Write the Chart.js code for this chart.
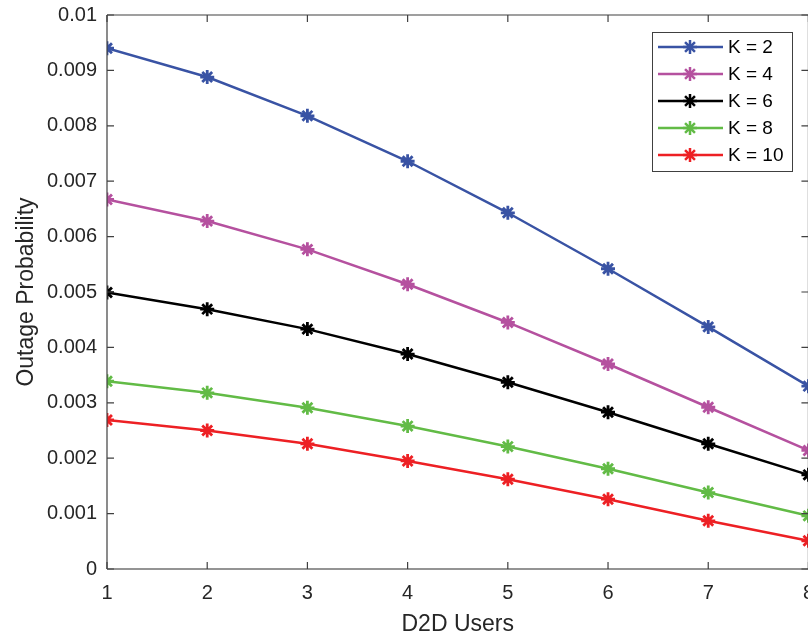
<!DOCTYPE html>
<html>
<head>
<meta charset="utf-8">
<script src="https://cdn.jsdelivr.net/npm/chart.js@4.4.1/dist/chart.umd.min.js"></script>
<style>
  html, body { margin: 0; padding: 0; background: #fff; overflow: hidden; }
  #wrap { width: 826px; height: 636px; }
</style>
</head>
<body>
<div id="wrap"><canvas id="chart" width="826" height="636"></canvas></div>
<script>
const users = [1, 2, 3, 4, 5, 6, 7, 8];
const seriesLabels = ['K = 2', 'K = 4', 'K = 6', 'K = 8', 'K = 10'];
const k2 = [0.00940, 0.00888, 0.00818, 0.00736, 0.00643, 0.00542, 0.00437, 0.00330];
const k4 = [0.00667, 0.00628, 0.00577, 0.00514, 0.00445, 0.00370, 0.00292, 0.00214];
const k6 = [0.00499, 0.00469, 0.00433, 0.00388, 0.00337, 0.00283, 0.00226, 0.00170];
const k8 = [0.00339, 0.00318, 0.00291, 0.00258, 0.00221, 0.00181, 0.00138, 0.00096];
const k10 = [0.00269, 0.00250, 0.00226, 0.00195, 0.00162, 0.00126, 0.00087, 0.00051];
const yTicks = [0, 0.001, 0.002, 0.003, 0.004, 0.005, 0.006, 0.007, 0.008, 0.009, 0.01];

const colors = ['#3953a4', '#b5519f', '#000000', '#62bb46', '#ed2024'];
const values = [k2, k4, k6, k8, k10];
const font = 'Liberation Sans, Arial, sans-serif';

const datasets = values.map((v, i) => ({
  label: seriesLabels[i],
  data: users.map((u, j) => ({ x: u, y: v[j] })),
  borderColor: colors[i],
  backgroundColor: colors[i],
  borderWidth: 2.5,
  pointStyle: 'star',
  pointRadius: 7,
  pointBorderWidth: 2.8,
  tension: 0
}));

// MATLAB style box, inward ticks and legend
const boxPlugin = {
  id: 'box',
  afterDraw(chart) {
    const { ctx, chartArea: a, scales } = chart;
    ctx.save();
    ctx.lineWidth = 1.2;
    ctx.strokeStyle = '#404040';
    ctx.beginPath();
    ctx.moveTo(a.left, a.top); ctx.lineTo(a.right, a.top);
    ctx.moveTo(a.right, a.top); ctx.lineTo(a.right, a.bottom);
    ctx.moveTo(a.left, a.top); ctx.lineTo(a.left, a.bottom);
    ctx.stroke();
    ctx.strokeStyle = '#707070';
    ctx.lineWidth = 1.5;
    ctx.beginPath();
    ctx.moveTo(a.left, a.bottom); ctx.lineTo(a.right, a.bottom);
    ctx.stroke();
    const t = 7;
    ctx.strokeStyle = '#404040';
    ctx.lineWidth = 1.2;
    ctx.beginPath();
    scales.x.ticks.forEach(tk => {
      const px = scales.x.getPixelForValue(tk.value);
      ctx.moveTo(px, a.bottom); ctx.lineTo(px, a.bottom - t);
      ctx.moveTo(px, a.top); ctx.lineTo(px, a.top + t);
    });
    scales.y.ticks.forEach(tk => {
      const py = scales.y.getPixelForValue(tk.value);
      ctx.moveTo(a.left, py); ctx.lineTo(a.left + t, py);
      ctx.moveTo(a.right, py); ctx.lineTo(a.right - t, py);
    });
    ctx.stroke();

    // legend
    const lx = 652, ly = 32, lw = 140, lh = 139;
    ctx.fillStyle = '#fff';
    ctx.fillRect(lx, ly, lw, lh);
    ctx.strokeStyle = '#404040';
    ctx.lineWidth = 1;
    ctx.strokeRect(lx + 0.5, ly + 0.5, lw, lh);
    chart.data.datasets.forEach((ds, i) => {
      const cy = 47 + i * 27;
      ctx.strokeStyle = ds.borderColor;
      ctx.lineWidth = 2.5;
      ctx.beginPath();
      ctx.moveTo(658, cy); ctx.lineTo(723, cy);
      ctx.stroke();
      Chart.helpers.drawPoint(ctx, { pointStyle: 'star', radius: 7, borderWidth: 2.8 }, 690, cy);
      ctx.fillStyle = '#000';
      ctx.font = '19px ' + font;
      ctx.textBaseline = 'middle';
      ctx.textAlign = 'left';
      ctx.fillText(ds.label, 728, cy + 1);
    });
    ctx.restore();
  }
};

new Chart(document.getElementById('chart'), {
  type: 'line',
  data: { datasets },
  options: {
    responsive: false,
    animation: false,
    layout: { padding: { top: 15, right: 12, left: 0, bottom: 0 } },
    plugins: { legend: { display: false }, tooltip: { enabled: false } },
    scales: {
      x: {
        type: 'linear',
        min: 1, max: 8,
        ticks: { stepSize: 1, color: '#262626', font: { family: font, size: 20 }, padding: 12 },
        grid: { display: false, drawTicks: false },
        border: { display: false },
        title: { display: true, text: 'D2D Users', color: '#262626', font: { family: font, size: 23, lineHeight: 1 }, padding: { top: 0, bottom: 0 } },
        afterFit(s) { s.height = 67; }
      },
      y: {
        min: 0, max: 0.01,
        afterBuildTicks(s) { s.ticks = yTicks.map(v => ({ value: v })); },
        ticks: {
          color: '#262626',
          font: { family: font, size: 20 },
          padding: 10,
          callback: v => v === 0 ? '0' : String(parseFloat(v.toFixed(3)))
        },
        grid: { display: false, drawTicks: false },
        border: { display: false },
        title: { display: true, text: 'Outage Probability', color: '#262626', font: { family: font, size: 23, lineHeight: 1 }, padding: { top: 15, bottom: 0 } },
        afterFit(s) { s.width = 107; s.paddingTop = 0; s.paddingBottom = 0; }
      }
    }
  },
  plugins: [boxPlugin]
});
</script>
</body>
</html>
